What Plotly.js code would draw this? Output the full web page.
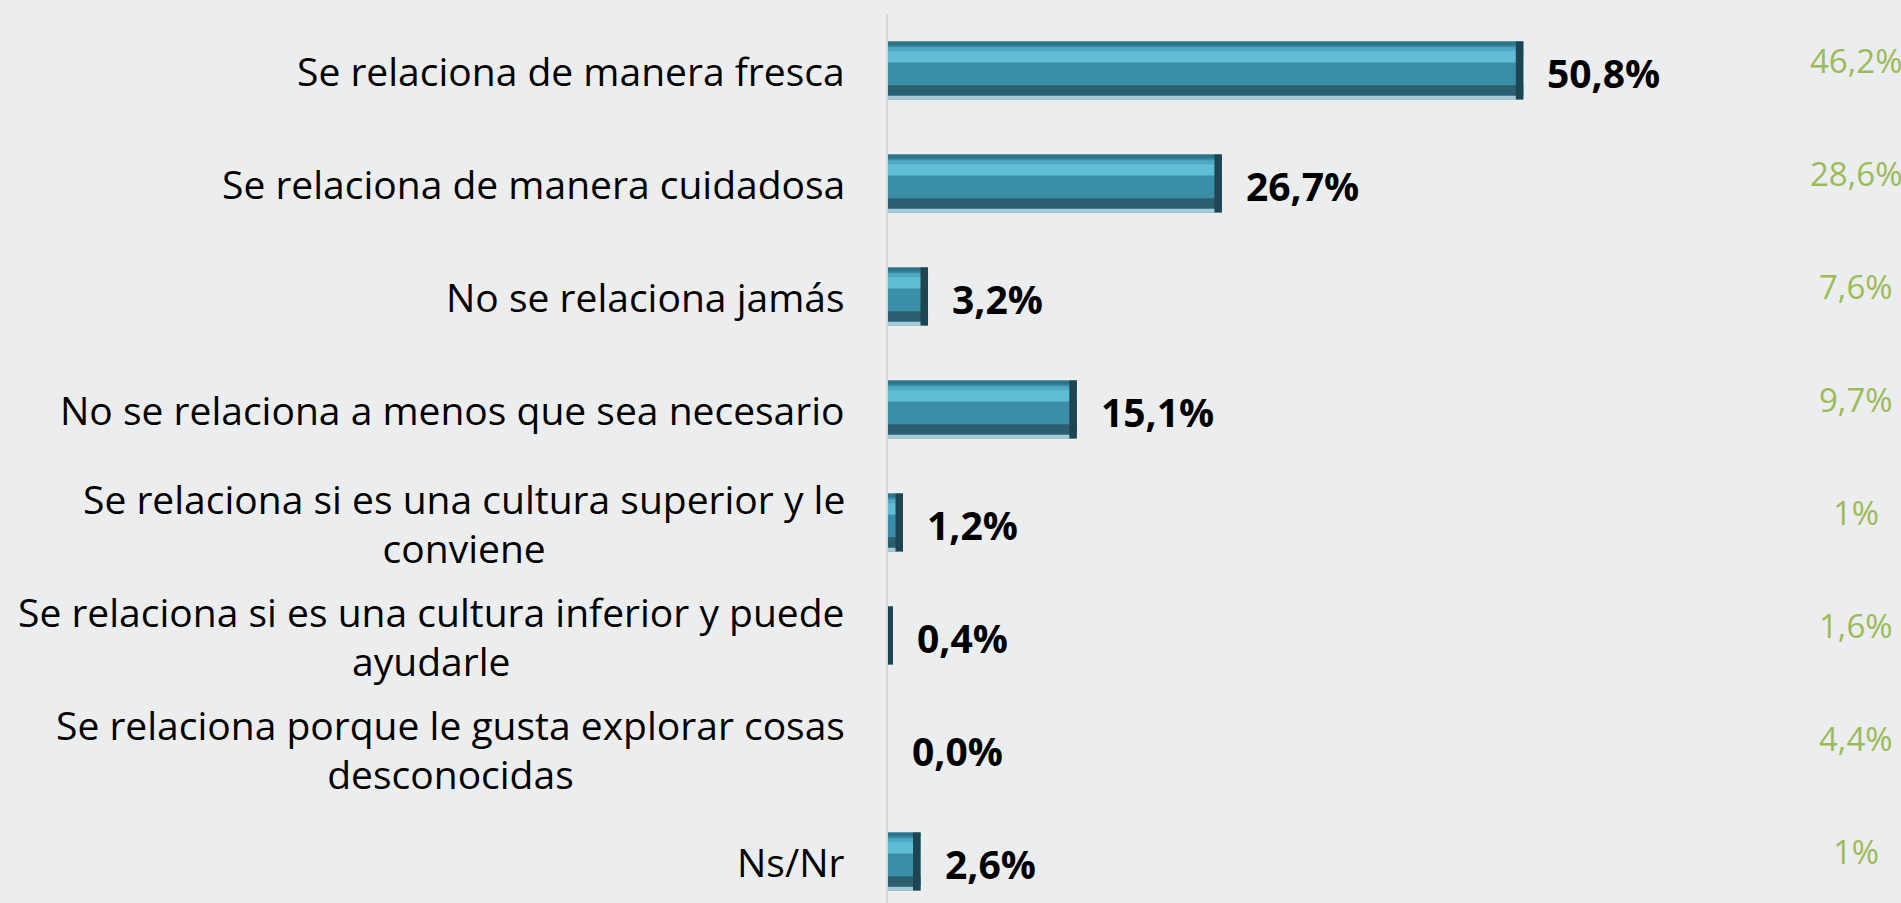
<!DOCTYPE html>
<html><head><meta charset="utf-8">
<script src="https://cdn.plot.ly/plotly-3.0.1.min.js"></script>
<style>html,body{margin:0;padding:0;background:#ecedef;overflow:hidden}</style>
</head><body><div id="chart" style="width:1901px;height:903px"></div>
<script>
// ---- data ----
const categories = [
  "Se relaciona de manera fresca",
  "Se relaciona de manera cuidadosa",
  "No se relaciona jamás",
  "No se relaciona a menos que sea necesario",
  "Se relaciona si es una cultura superior y le<br>conviene",
  "Se relaciona si es una cultura inferior y puede<br>ayudarle",
  "Se relaciona porque le gusta explorar cosas<br>desconocidas",
  "Ns/Nr"
];
const values = [50.8, 26.7, 3.2, 15.1, 1.2, 0.4, 0.0, 2.6];
const comparisonValues = [46.2, 28.6, 7.6, 9.7, 1, 1.6, 4.4, 1];

// ---- helpers ----
const FONT = "'Open Sans', 'Noto Sans', 'Liberation Sans', sans-serif";
const LABEL_SIZE = 39;
const fmt1 = v => v.toFixed(1).replace('.', ',') + '%';
const fmtCmp = v => (Number.isInteger(v) ? String(v) : v.toFixed(1).replace('.', ',')) + '%';

const H = 0.513;
function layer(offset, width, color, extra) {
  return Object.assign({
    type: 'bar', orientation: 'h', y: categories, x: values,
    width: width, offset: offset, marker: {color: color, line: {width: 0}},
    hoverinfo: 'skip', showlegend: false
  }, extra || {});
}
const capW = values.map(v => Math.min(v, 0.6));
const traces = [
  layer(-H / 2, H, '#3a8ea7'),
  layer(-H / 2, 0.035, '#2c7488'),
  layer(-0.205, 0.05, '#4fa9c2'),
  layer(-0.17, 0.10, '#5fbdd6'),
  layer(0.13, 0.09, '#2b5f6f'),
  layer(0.225, 0.031, '#a9c9d3'),
  layer(-H / 2, H, '#1e4652', {x: capW, base: values.map((v, i) => v - capW[i])})
];

const annotations = [];
categories.forEach((c, i) => {
  annotations.push({
    xref: 'paper', yref: 'y', x: 0, y: c, xanchor: 'right', yanchor: 'middle',
    xshift: -41, align: 'center', showarrow: false, text: c,
    font: {family: FONT, size: LABEL_SIZE, color: '#000'}
  });
  annotations.push({
    xref: 'x', yref: 'y', x: values[i], y: c, xanchor: 'left', yanchor: 'middle',
    xshift: 22, yshift: -2, showarrow: false, text: fmt1(values[i]),
    font: {family: FONT, size: 39, color: '#000', weight: 'bold'}
  });
  annotations.push({
    xref: 'paper', yref: 'y', x: 0.9556, y: c, xanchor: 'center', yanchor: 'middle',
    yshift: 10, showarrow: false, text: fmtCmp(comparisonValues[i]),
    font: {family: FONT, size: 33, color: '#9bbb59'}
  });
});

const layout = {
  width: 1901, height: 903,
  margin: {l: 888, r: 0, t: 14, b: 0},
  paper_bgcolor: '#ecedef', plot_bgcolor: '#ecedef',
  barmode: 'overlay',
  xaxis: {range: [0, 81], showgrid: false, zeroline: false, showticklabels: false, showline: false, fixedrange: true},
  yaxis: {type: 'category', range: [7.367, -0.5], showgrid: false, zeroline: false, showticklabels: false,
          showline: true, linecolor: '#d6d6d6', linewidth: 2, ticks: '', fixedrange: true},
  annotations: annotations,
  font: {family: FONT}
};

Plotly.newPlot('chart', traces, layout, {staticPlot: true, displayModeBar: false}).then(gd => {
  const s = 49 / LABEL_SIZE;
  gd.querySelectorAll('text.annotation-text').forEach(t => {
    const lines = t.querySelectorAll('tspan.line');
    const n = lines.length;
    if (n > 1) {
      lines.forEach((ln, i) => {
        ln.setAttribute('dy', (i * s + (n - 1) * (1.3 - s) / 2) + 'em');
      });
    }
  });
});
</script></body></html>
